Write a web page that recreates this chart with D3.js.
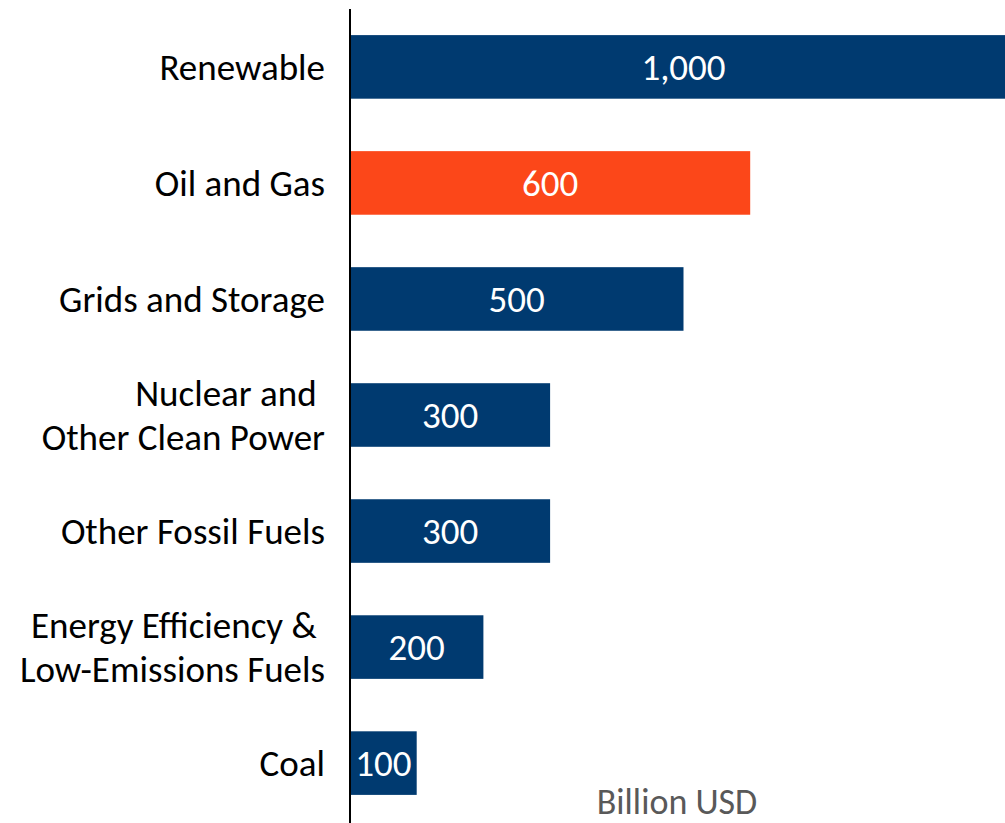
<!DOCTYPE html>
<html>
<head>
<meta charset="utf-8">
<script src="https://cdn.jsdelivr.net/npm/d3@7"></script>
<style>
  body { margin: 0; background: #fff; }
  svg { display: block; }
  text { font-family: Calibri, Carlito, Lato, "Open Sans", sans-serif; white-space: pre; }
</style>
</head>
<body>
<div id="chart"></div>
<script>
// chart values
var categories = ["Renewable", "Oil and Gas", "Grids and Storage", "Nuclear and |Other Clean Power",
                  "Other Fossil Fuels", "Energy Efficiency & |Low-Emissions Fuels", "Coal"];
var values = [1000, 600, 500, 300, 300, 200, 100];
var valueLabels = ["1,000", "600", "500", "300", "300", "200", "100"];
var highlight = ["Oil and Gas"];
var unitLabel = "Billion USD";

var width = 1005, height = 823;
var margin = {top: 9, right: 0, bottom: 29, left: 350};

var svg = d3.select("#chart")
  .append("svg")
  .attr("width", width)
  .attr("height", height);

var x = d3.scaleLinear()
  .domain([0, 1000])
  .range([margin.left, margin.left + 667]);

var y = d3.scaleBand()
  .domain(categories)
  .range([margin.top, margin.top + 7 * 116])
  .paddingInner(0.452)
  .paddingOuter(0.225);

// bars
svg.selectAll("rect.bar")
  .data(values)
  .enter().append("rect")
  .attr("class", "bar")
  .attr("x", x(0))
  .attr("y", function(d, i) { return y(categories[i]); })
  .attr("width", function(d) { return x(d) - x(0); })
  .attr("height", y.bandwidth())
  .attr("fill", function(d, i) { return highlight.indexOf(categories[i]) >= 0 ? "#FC4719" : "#003A70"; });

// value labels
svg.selectAll("text.val")
  .data(values)
  .enter().append("text")
  .attr("class", "val")
  .attr("x", function(d) { return (x(0) + x(d)) / 2; })
  .attr("y", function(d, i) { return y(categories[i]) + y.bandwidth() / 2; })
  .attr("dy", "0.36em")
  .attr("text-anchor", "middle")
  .style("font-size", "37px")
  .style("fill", "#fff")
  .text(function(d, i) { return valueLabels[i]; });

// category labels
var cats = svg.selectAll("text.cat")
  .data(categories)
  .enter().append("text")
  .attr("class", "cat")
  .attr("text-anchor", "end")
  .style("font-size", "37px")
  .style("fill", "#000");

cats.each(function(c) {
  var lines = c.split("|");
  var cy = y(c) + y.bandwidth() / 2;
  var t = d3.select(this);
  lines.forEach(function(l, j) {
    t.append("tspan")
      .attr("x", 325)
      .attr("y", cy + (j - (lines.length - 1) / 2) * 44)
      .attr("dy", "0.36em")
      .text(l);
  });
});

// axis line
svg.append("line")
  .attr("x1", x(0)).attr("x2", x(0))
  .attr("y1", 9).attr("y2", height)
  .attr("stroke", "#000")
  .attr("stroke-width", 2);

// unit label
svg.append("text")
  .attr("x", 677)
  .attr("y", 814)
  .attr("text-anchor", "middle")
  .style("font-size", "36px")
  .style("fill", "#595959")
  .text(unitLabel);
</script>
</body>
</html>
